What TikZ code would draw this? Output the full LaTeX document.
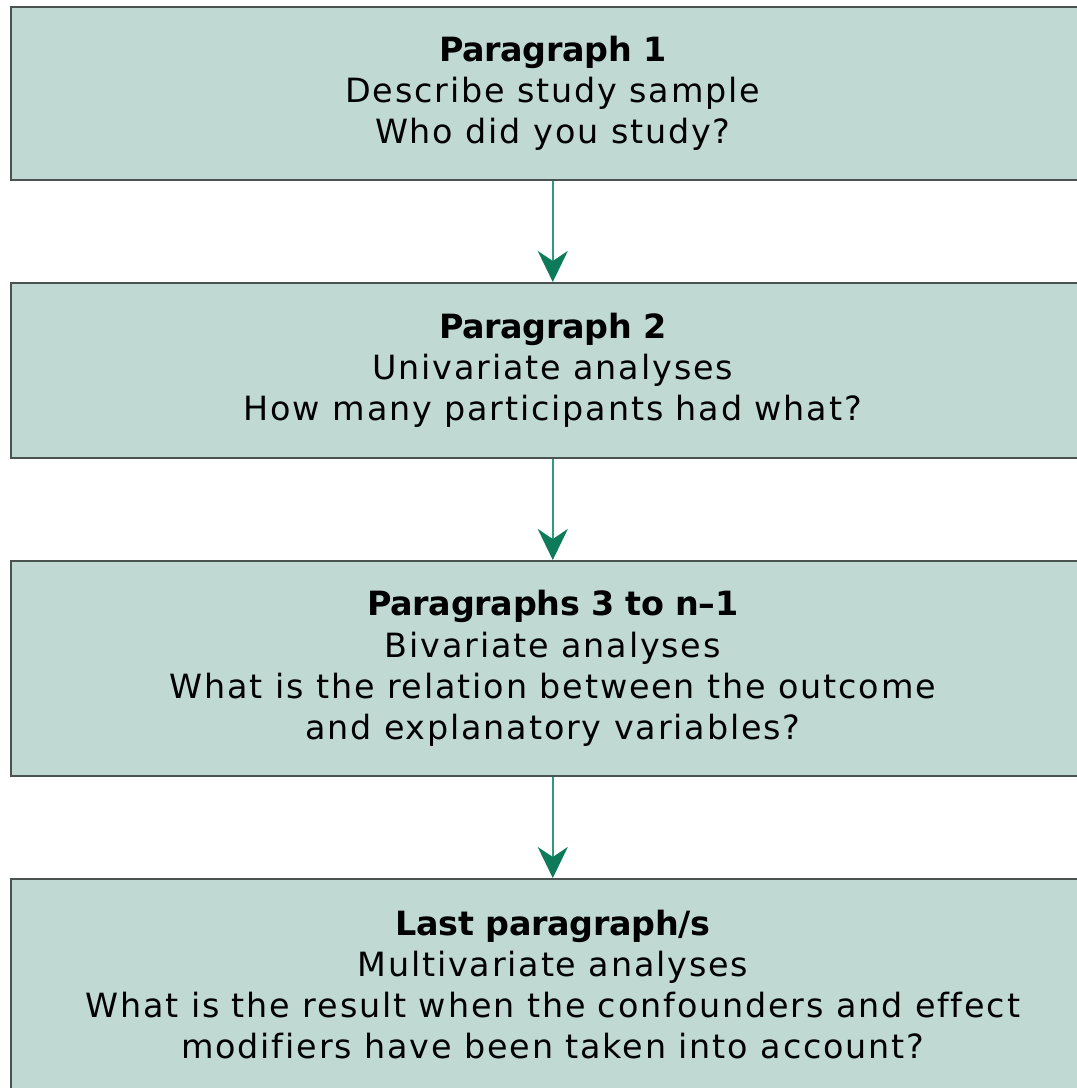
\documentclass[tikz,border=0pt]{standalone}
\usepackage{fontspec}
\setmainfont{DejaVu Sans}[LetterSpace=5.5, Ligatures=CommonOff,
  BoldFeatures={LetterSpace=-1}]
\usetikzlibrary{arrows.meta}
\definecolor{boxfill}{HTML}{C0DAD3}
\definecolor{boxline}{HTML}{4A5350}
\definecolor{arrowline}{HTML}{2E9C7C}
\definecolor{arrowtip}{HTML}{0D7A5A}
\tikzset{
  x=0.02cm, y=-0.02cm,
  stage/.style={draw=boxline, line width=1pt, fill=boxfill, rectangle,
    minimum width=21.68cm, inner sep=0pt, align=center,
    font=\fontsize{19}{23.4}\selectfont, text=black},
  flow/.style={draw=arrowline, line width=1.1pt,
    -{Stealth[length=0.62cm, width=0.6cm, inset=0.2cm, color=arrowtip]}},
}
\begin{document}
\begin{tikzpicture}
\useasboundingbox (0,0) rectangle (1077,1088);
\clip (0,0) rectangle (1077,1088);
\node[stage, minimum height=3.46cm, anchor=north west] (p1) at (10,6)
  {\textbf{Paragraph 1}\\Describe study sample\\Who did you study?};
\node[stage, minimum height=3.50cm, anchor=north west] (p2) at (10,282)
  {\textbf{Paragraph 2}\\Univariate analyses\\How many participants had what?};
\node[stage, minimum height=4.30cm, anchor=north west] (p3) at (10,560)
  {\textbf{Paragraphs 3 to n–1}\\Bivariate analyses\\What is the relation between the outcome\\and explanatory variables?};
\node[stage, minimum height=4.22cm, anchor=north west] (p4) at (10,878)
  {\textbf{Last paragraph/s}\\Multivariate analyses\\What is the result when the confounders and effect\\modifiers have been taken into account?};
\draw[flow] (p1.south) -- (p2.north);
\draw[flow] (p2.south) -- (p3.north);
\draw[flow] (p3.south) -- (p4.north);
\end{tikzpicture}
\end{document}
